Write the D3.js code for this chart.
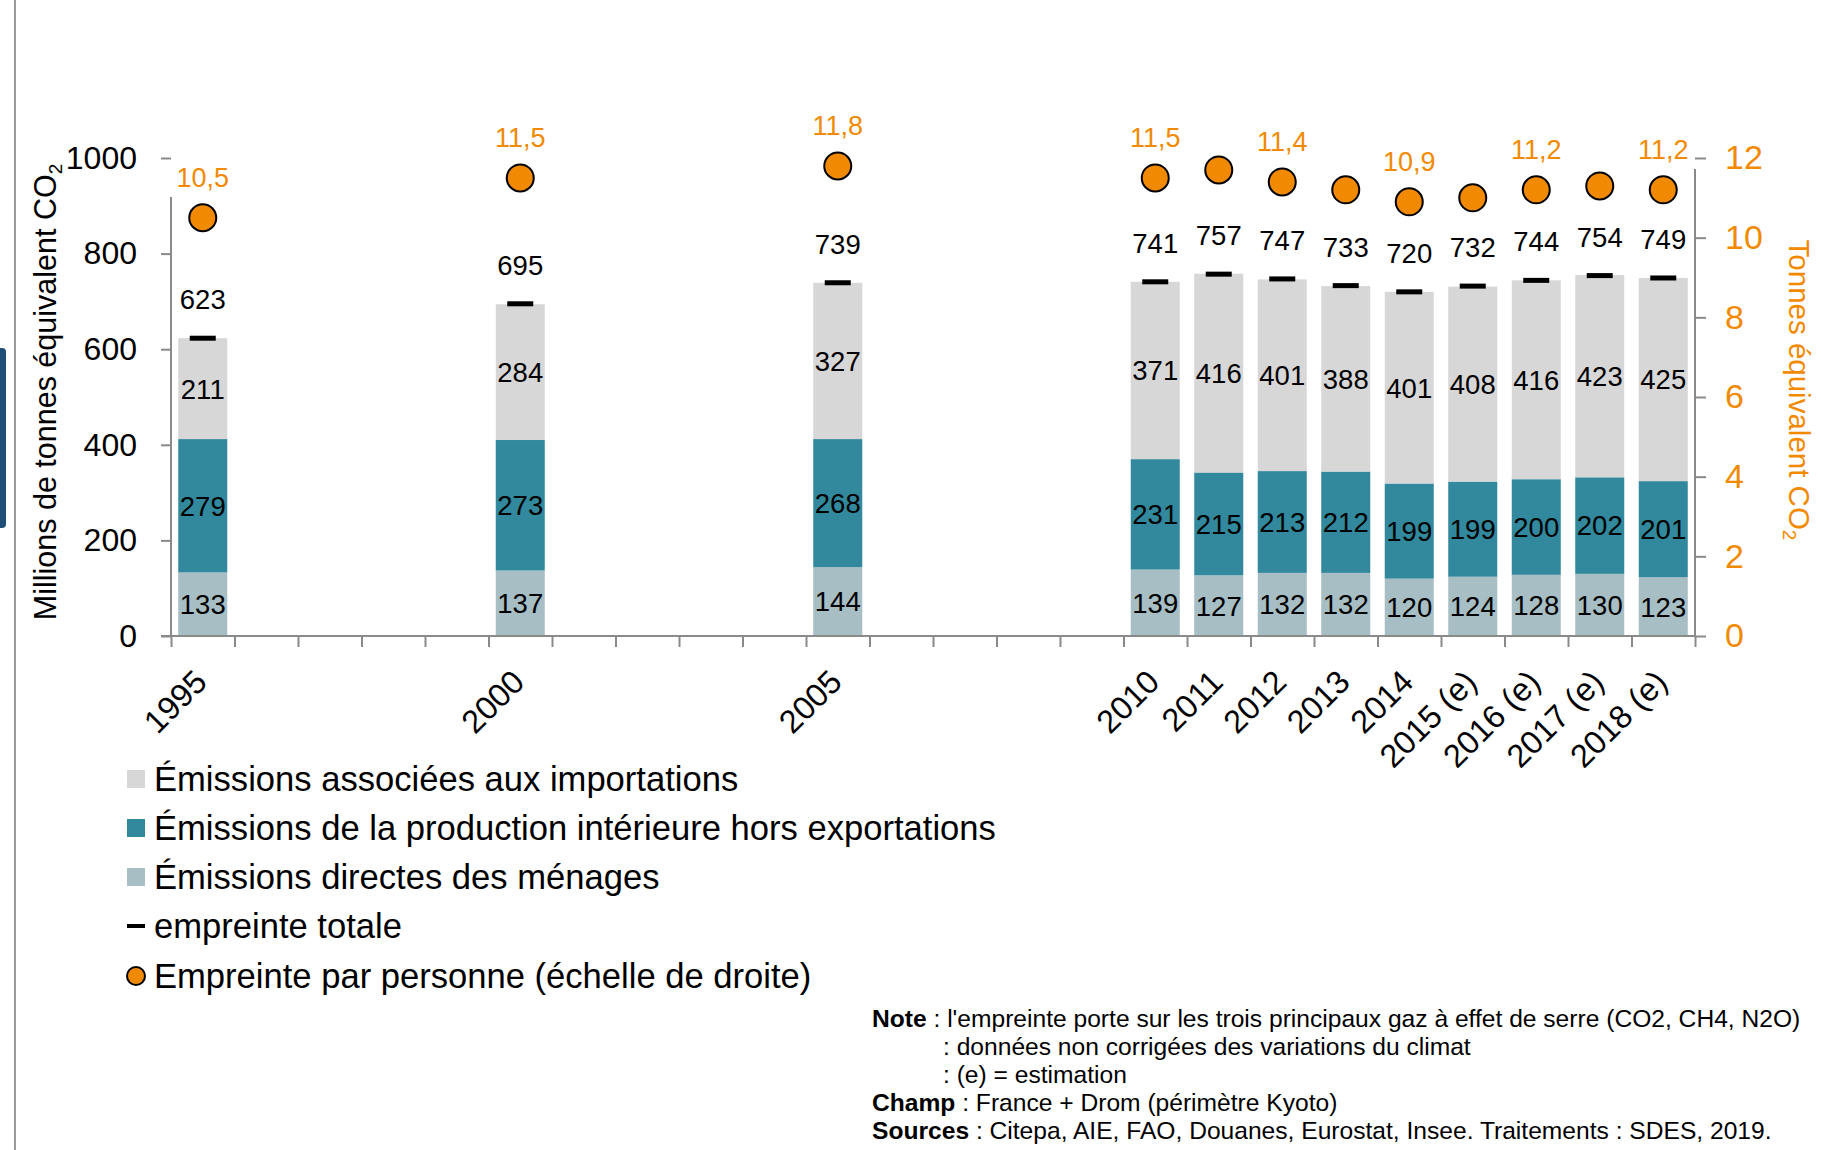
<!DOCTYPE html>
<html>
<head>
<meta charset="utf-8">
<script src="https://cdn.jsdelivr.net/npm/d3@7"></script>
<style>
  body { margin: 0; background: #fff; }
  svg { font-family: "Liberation Sans", Arial, sans-serif; }
</style>
</head>
<body>
<div id="chart"></div>
<script>
// years carrying data and how they are labelled on the axis
let years = [1995, 2000, 2005, 2010, 2011, 2012, 2013, 2014, 2015, 2016, 2017, 2018];
let yearLabels = ["1995", "2000", "2005", "2010", "2011", "2012", "2013", "2014", "2015 (e)", "2016 (e)", "2017 (e)", "2018 (e)"];

// millions de tonnes équivalent CO2
let direct = [133, 137, 144, 139, 127, 132, 132, 120, 124, 128, 130, 123];
let production = [279, 273, 268, 231, 215, 213, 212, 199, 199, 200, 202, 201];
let imports = [211, 284, 327, 371, 416, 401, 388, 401, 408, 416, 423, 425];
let totals = [623, 695, 739, 741, 757, 747, 733, 720, 732, 744, 754, 749];

// tonnes équivalent CO2 par personne (échelle de droite)
let perPerson = [10.5, 11.5, 11.8, 11.5, 11.7, 11.4, 11.2, 10.9, 11.0, 11.2, 11.3, 11.2];
let perPersonLabelled = [true, true, true, true, false, true, false, true, false, true, false, true];

let leftTicks = [0, 200, 400, 600, 800, 1000];
let rightTicks = [0, 2, 4, 6, 8, 10, 12];

let legendLabels = [
  "Émissions associées aux importations",
  "Émissions de la production intérieure hors exportations",
  "Émissions directes des ménages",
  "empreinte totale",
  "Empreinte par personne (échelle de droite)"
];

let colors = { imports: "#d7d7d7", production: "#32889c", direct: "#a6bec4", orange: "#f18a00", axis: "#8a8a8a" };

let svgWidth = 1821;
let svgHeight = 1150;

let svg = d3.select("#chart")
  .append("svg")
  .attr("width", svgWidth)
  .attr("height", svgHeight);

// page decorations on the far left
svg.append("line")
  .attr("x1", 15).attr("x2", 15).attr("y1", 0).attr("y2", svgHeight)
  .attr("stroke", "#9a9a9a").attr("stroke-width", 2);
svg.append("rect")
  .attr("x", -6).attr("y", 348).attr("width", 12).attr("height", 180).attr("rx", 4)
  .attr("fill", "#1f4e79");

// scales
let plotLeft = 171, plotRight = 1695, plotTop = 158, plotBottom = 636;

let allYears = d3.range(1995, 2019);
let x = d3.scaleBand()
  .domain(allYears)
  .range([plotLeft, plotRight])
  .paddingInner(0.228)
  .paddingOuter(0.114);

let xEdges = d3.scaleLinear().domain([1995, 2019]).range([plotLeft, plotRight]);

let y = d3.scaleLinear().domain([0, 1000]).range([plotBottom, plotTop]);
let y2 = d3.scaleLinear().domain([0, 12]).range([plotBottom, plotTop]);

// stacked data
let rows = years.map((yr, i) => ({ year: yr, direct: direct[i], production: production[i], imports: imports[i] }));
let stack = d3.stack().keys(["direct", "production", "imports"]);
let series = stack(rows);

let barGroup = svg.append("g");
barGroup.selectAll("g")
  .data(series)
  .enter()
  .append("g")
  .attr("fill", d => colors[d.key])
  .selectAll("rect")
  .data(d => d)
  .enter()
  .append("rect")
  .attr("x", d => x(d.data.year))
  .attr("y", d => y(d[1]))
  .attr("width", x.bandwidth())
  .attr("height", d => y(d[0]) - y(d[1]));

// segment values
series.forEach(s => {
  barGroup.selectAll(".seg-" + s.key)
    .data(s)
    .enter()
    .append("text")
    .attr("x", d => x(d.data.year) + x.bandwidth() / 2)
    .attr("y", d => (y(d[0]) + y(d[1])) / 2)
    .attr("dy", "0.36em")
    .attr("text-anchor", "middle")
    .attr("font-size", 27.5)
    .attr("fill", "#000")
    .text(d => d.data[s.key]);
});

// axes
let axisColor = colors.axis;

let xAxis = svg.append("g")
  .attr("transform", `translate(0, ${plotBottom})`)
  .call(d3.axisBottom(xEdges).tickValues(d3.range(1995, 2020)).tickFormat("").tickSize(11).tickSizeOuter(0));
xAxis.select(".domain").attr("d", `M${plotLeft - 10},0H${plotRight}`);

let leftAxis = svg.append("g")
  .attr("transform", `translate(${plotLeft}, 0)`)
  .call(d3.axisLeft(y).tickValues(leftTicks).tickFormat(d3.format("d")).tickSize(10).tickPadding(24).tickSizeOuter(0));
leftAxis.select(".domain").attr("d", `M0,197V${plotBottom}`);
leftAxis.selectAll("text").attr("font-size", 32).attr("fill", "#000");

let rightAxis = svg.append("g")
  .attr("transform", `translate(${plotRight}, 0)`)
  .call(d3.axisRight(y2).tickValues(rightTicks).tickSize(11).tickPadding(19).tickSizeOuter(0));
rightAxis.select(".domain").attr("d", `M0,169V${plotBottom}`);
rightAxis.selectAll("text").attr("font-size", 34).attr("fill", colors.orange);

svg.selectAll(".domain, .tick line")
  .attr("stroke", axisColor)
  .attr("stroke-width", 2);
svg.selectAll(".tick text").attr("font-family", "Liberation Sans, Arial, sans-serif");

// x labels
svg.append("g").selectAll("text")
  .data(years)
  .enter()
  .append("text")
  .attr("transform", d => `translate(${x(d) + x.bandwidth() / 2 + 6}, 684) rotate(-45)`)
  .attr("text-anchor", "end")
  .attr("font-size", 32.5)
  .attr("fill", "#000")
  .text((d, i) => yearLabels[i]);

// total footprint marks and labels
let marks = svg.append("g");
marks.selectAll("rect")
  .data(years)
  .enter()
  .append("rect")
  .attr("x", d => x(d) + x.bandwidth() / 2 - 13)
  .attr("y", (d, i) => y(totals[i]) - 2.5)
  .attr("width", 26)
  .attr("height", 5)
  .attr("fill", "#000");

marks.selectAll("text")
  .data(years)
  .enter()
  .append("text")
  .attr("x", d => x(d) + x.bandwidth() / 2)
  .attr("y", (d, i) => y(totals[i]) - 29)
  .attr("text-anchor", "middle")
  .attr("font-size", 27.5)
  .attr("fill", "#000")
  .text((d, i) => totals[i]);

// per-person dots on the right scale
let dots = svg.append("g");
dots.selectAll("circle")
  .data(years)
  .enter()
  .append("circle")
  .attr("cx", d => x(d) + x.bandwidth() / 2)
  .attr("cy", (d, i) => y2(perPerson[i]))
  .attr("r", 13.5)
  .attr("fill", colors.orange)
  .attr("stroke", "#000")
  .attr("stroke-width", 2);

dots.selectAll("text")
  .data(years.filter((d, i) => perPersonLabelled[i]))
  .enter()
  .append("text")
  .attr("x", d => x(d) + x.bandwidth() / 2)
  .attr("y", d => y2(perPerson[years.indexOf(d)]) - 31)
  .attr("text-anchor", "middle")
  .attr("font-size", 27)
  .attr("fill", colors.orange)
  .text(d => perPerson[years.indexOf(d)].toFixed(1).replace(".", ","));

// axis titles
let leftTitle = svg.append("text")
  .attr("transform", "translate(56, 392) rotate(-90)")
  .attr("text-anchor", "middle")
  .attr("font-size", 30.5)
  .attr("fill", "#000");
leftTitle.append("tspan").text("Millions de tonnes équivalent CO");
leftTitle.append("tspan").attr("font-size", 19).attr("dy", 6).text("2");

let rightTitle = svg.append("text")
  .attr("transform", "translate(1789, 390) rotate(90)")
  .attr("text-anchor", "middle")
  .attr("font-size", 29.5)
  .attr("fill", colors.orange);
rightTitle.append("tspan").text("Tonnes équivalent CO");
rightTitle.append("tspan").attr("font-size", 19).attr("dy", 6).text("2");

// legend
let legendRows = [779, 828, 877, 926, 976];
let legend = svg.append("g");
let swatchColors = [colors.imports, colors.production, colors.direct];
swatchColors.forEach((c, i) => {
  legend.append("rect")
    .attr("x", 127).attr("y", legendRows[i] - 9)
    .attr("width", 18).attr("height", 18)
    .attr("fill", c);
});
legend.append("rect")
  .attr("x", 127).attr("y", legendRows[3] - 2)
  .attr("width", 18).attr("height", 4)
  .attr("fill", "#000");
legend.append("circle")
  .attr("cx", 136).attr("cy", legendRows[4])
  .attr("r", 9)
  .attr("fill", colors.orange)
  .attr("stroke", "#000")
  .attr("stroke-width", 2);
legend.selectAll("text")
  .data(legendLabels)
  .enter()
  .append("text")
  .attr("x", 154)
  .attr("y", (d, i) => legendRows[i] + 12)
  .attr("font-size", 34.6)
  .attr("fill", "#000")
  .text(d => d);

// notes
let notes = [
  { bold: "Note", rest: " : l'empreinte porte sur les trois principaux gaz à effet de serre (CO2, CH4, N2O)", x: 872 },
  { bold: "", rest: ": données non corrigées des variations du climat", x: 943 },
  { bold: "", rest: ": (e) = estimation", x: 943 },
  { bold: "Champ", rest: " : France + Drom (périmètre Kyoto)", x: 872 },
  { bold: "Sources", rest: " : Citepa, AIE, FAO, Douanes, Eurostat, Insee. Traitements : SDES, 2019.", x: 872 }
];
let noteGroup = svg.append("g");
notes.forEach((n, i) => {
  let t = noteGroup.append("text")
    .attr("x", n.x)
    .attr("y", 1027 + i * 28)
    .attr("font-size", 24.6)
    .attr("fill", "#000");
  if (n.bold) t.append("tspan").attr("font-weight", "bold").text(n.bold);
  t.append("tspan").text(n.rest);
});
</script>
</body>
</html>
